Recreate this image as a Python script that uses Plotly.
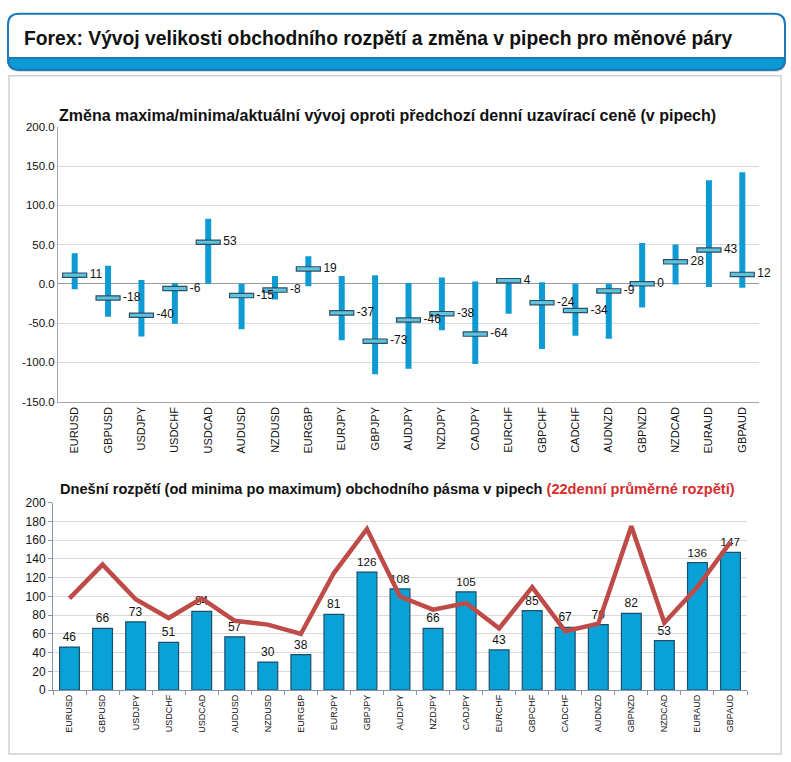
import plotly.graph_objects as go

# ---------------- data ----------------
pairs = ["EURUSD", "GBPUSD", "USDJPY", "USDCHF", "USDCAD", "AUDUSD", "NZDUSD",
         "EURGBP", "EURJPY", "GBPJPY", "AUDJPY", "NZDJPY", "CADJPY", "EURCHF",
         "GBPCHF", "CADCHF", "AUDNZD", "GBPNZD", "NZDCAD", "EURAUD", "GBPAUD"]

change_max = [39, 23, 5, 1, 83, 0, 10, 35, 10, 11, 1, 8, 3, 5, 2, 0, 0, 52, 50, 132, 142]
change_min = [-7, -42, -67, -51, 0, -58, -20, -3, -72, -115, -108, -59, -102, -38, -83, -66, -70, -30, -1, -4, -5]
change_now = [11, -18, -40, -6, 53, -15, -8, 19, -37, -73, -46, -38, -64, 4, -24, -34, -9, 0, 28, 43, 12]

range_today = [46, 66, 73, 51, 84, 57, 30, 38, 81, 126, 108, 66, 105, 43, 85, 67, 70, 82, 53, 136, 147]
range_avg22 = [98, 134, 97, 77, 98, 74, 70, 60, 125, 172, 100, 86, 93, 66, 110, 63, 71, 175, 72, 110, 158]

top_ticks = [200, 150, 100, 50, 0, -50, -100, -150]
bottom_ticks = [0, 20, 40, 60, 80, 100, 120, 140, 160, 180, 200]

# ---------------- geometry helpers ----------------
W, H = 791, 762


def px(x):
    return x / W


def py(y):
    return 1 - y / H


FONT = "Liberation Sans, Arial, sans-serif"
idx = list(range(len(pairs)))

fig = go.Figure()

# ---- top chart: min-max range bars ----
fig.add_trace(go.Bar(
    x=idx, y=[mx - mn for mx, mn in zip(change_max, change_min)], base=change_min,
    width=0.18, marker=dict(color="#0E9AD2", line=dict(width=0)),
    xaxis="x", yaxis="y", showlegend=False, hoverinfo="skip"))

# current value marker (flat bar)
fig.add_trace(go.Bar(
    x=idx, y=[5.5] * len(idx), base=[v - 2.75 for v in change_now],
    width=0.72, marker=dict(color="#5EC3E0", line=dict(color="#2F4F5F", width=1.2)),
    xaxis="x", yaxis="y", showlegend=False, hoverinfo="skip"))

fig.add_trace(go.Scatter(
    x=[i + 0.45 for i in idx], y=change_now, mode="text",
    text=[str(v) for v in change_now], textposition="middle right",
    textfont=dict(family=FONT, size=12, color="#111111"),
    xaxis="x", yaxis="y", showlegend=False, hoverinfo="skip", cliponaxis=False))

# ---- bottom chart: today's range bars + 22-day average line ----
fig.add_trace(go.Bar(
    x=pairs, y=range_today, width=0.6,
    marker=dict(color="#0AA2D6", line=dict(color="#1D4F6A", width=1.2)),
    text=[str(v) for v in range_today], textposition="outside",
    textfont=dict(family=FONT, size=12, color="#111111"), cliponaxis=False,
    xaxis="x2", yaxis="y2", showlegend=False, hoverinfo="skip"))

fig.add_trace(go.Scatter(
    x=pairs, y=range_avg22, mode="lines",
    line=dict(color="#BE4B48", width=4.5),
    xaxis="x2", yaxis="y2", showlegend=False, hoverinfo="skip"))

# ---------------- axes ----------------
fig.update_layout(
    xaxis=dict(domain=[px(58), px(759)], range=[-0.5, len(pairs) - 0.5],
               tickmode="array", tickvals=idx, ticktext=pairs, tickangle=-90,
               tickfont=dict(family=FONT, size=11, color="#111111"),
               showgrid=False, zeroline=False, showline=True, linecolor="#A6A6A6",
               ticks="", anchor="y", fixedrange=True),
    yaxis=dict(domain=[py(402), py(122)], range=[-150, 200],
               tickmode="array", tickvals=top_ticks,
               ticktext=[f"{v:.1f}" for v in top_ticks],
               tickfont=dict(family=FONT, size=11.5, color="#111111"),
               showgrid=True, gridcolor="#D9D9D9", gridwidth=1,
               zeroline=True, zerolinecolor="#9A9A9A", zerolinewidth=1,
               showline=True, linecolor="#A6A6A6", anchor="x", fixedrange=True),
    xaxis2=dict(domain=[px(53), px(747)], type="category",
                tickangle=-90, tickfont=dict(family=FONT, size=9, color="#111111"),
                showgrid=False, zeroline=False, showline=True, linecolor="#8497B0",
                ticks="outside", tickson="boundaries", ticklen=4, tickcolor="#8497B0",
                anchor="y2", fixedrange=True),
    yaxis2=dict(domain=[py(696), py(505)], range=[0, 200],
                tickmode="array", tickvals=bottom_ticks,
                tickfont=dict(family=FONT, size=12, color="#111111"),
                showgrid=True, gridcolor="#D9D9D9", gridwidth=1,
                zeroline=False, showline=True, linecolor="#8497B0",
                ticks="outside", ticklen=4, tickcolor="#8497B0",
                anchor="x2", fixedrange=True),
    barmode="overlay",
    width=W, height=H,
    margin=dict(l=0, r=0, t=0, b=0),
    paper_bgcolor="white", plot_bgcolor="white",
    font=dict(family=FONT),
)

# ---------------- decorations ----------------
r = 11
x0, x1, y0, y1 = 8, 785, 7, 64


def rounded_path(xa, xb, ya, yb, rad, top=True, bottom=True):
    tr = rad if top else 0
    br = rad if bottom else 0
    p = f"M {px(xa + tr)},{py(ya)} L {px(xb - tr)},{py(ya)} "
    p += f"Q {px(xb)},{py(ya)} {px(xb)},{py(ya + tr)} " if tr else ""
    p += f"L {px(xb)},{py(yb - br)} "
    p += f"Q {px(xb)},{py(yb)} {px(xb - br)},{py(yb)} " if br else ""
    p += f"L {px(xa + br)},{py(yb)} "
    p += f"Q {px(xa)},{py(yb)} {px(xa)},{py(yb - br)} " if br else ""
    p += f"L {px(xa)},{py(ya + tr)} "
    p += f"Q {px(xa)},{py(ya)} {px(xa + tr)},{py(ya)} " if tr else ""
    return p + "Z"


shapes = [
    # panel frame
    dict(type="rect", xref="paper", yref="paper", x0=px(9), x1=px(781), y0=py(761), y1=py(70),
         line=dict(color="#D0D0D0", width=1.5), fillcolor="rgba(0,0,0,0)", layer="below"),
    # header box shadow
    dict(type="path", xref="paper", yref="paper",
         path=rounded_path(x0 + 1, x1 + 1, y0 + 2, y1 + 2, r),
         fillcolor="#C9D6E0", line=dict(width=0), layer="below"),
    # header box
    dict(type="path", xref="paper", yref="paper", path=rounded_path(x0, x1, y0, y1, r),
         fillcolor="white", line=dict(color="#1C78B8", width=2), layer="below"),
    # blue band
    dict(type="path", xref="paper", yref="paper",
         path=rounded_path(x0, x1, 52, y1, r, top=False, bottom=True),
         fillcolor="#0C9AD3", line=dict(color="#1C78B8", width=2), layer="below"),
]
fig.update_layout(shapes=shapes)

annotations = [
    dict(text="<b>Forex: Vývoj velikosti obchodního rozpětí a změna v pipech pro měnové páry</b>",
         x=px(22), y=py(32), xref="paper", yref="paper", xanchor="left", yanchor="middle",
         showarrow=False, font=dict(family=FONT, size=19.3, color="#111111")),
    dict(text="<b>Změna maxima/minima/aktuální vývoj oproti předchozí denní uzavírací ceně (v pipech)</b>",
         x=px(387), y=py(111), xref="paper", yref="paper", xanchor="center", yanchor="middle",
         showarrow=False, font=dict(family=FONT, size=16, color="#111111")),
    dict(text="<b>Dnešní rozpětí (od minima po maximum) obchodního pásma v pipech "
              "<span style='color:#D42E2E'>(22denní průměrné rozpětí)</span></b>",
         x=px(58), y=py(491), xref="paper", yref="paper", xanchor="left", yanchor="middle",
         showarrow=False, font=dict(family=FONT, size=14.6, color="#111111")),
]
fig.update_layout(annotations=annotations)

fig.write_html("out.html", config={"displayModeBar": False},
               post_script="document.body.style.margin='0px';")
